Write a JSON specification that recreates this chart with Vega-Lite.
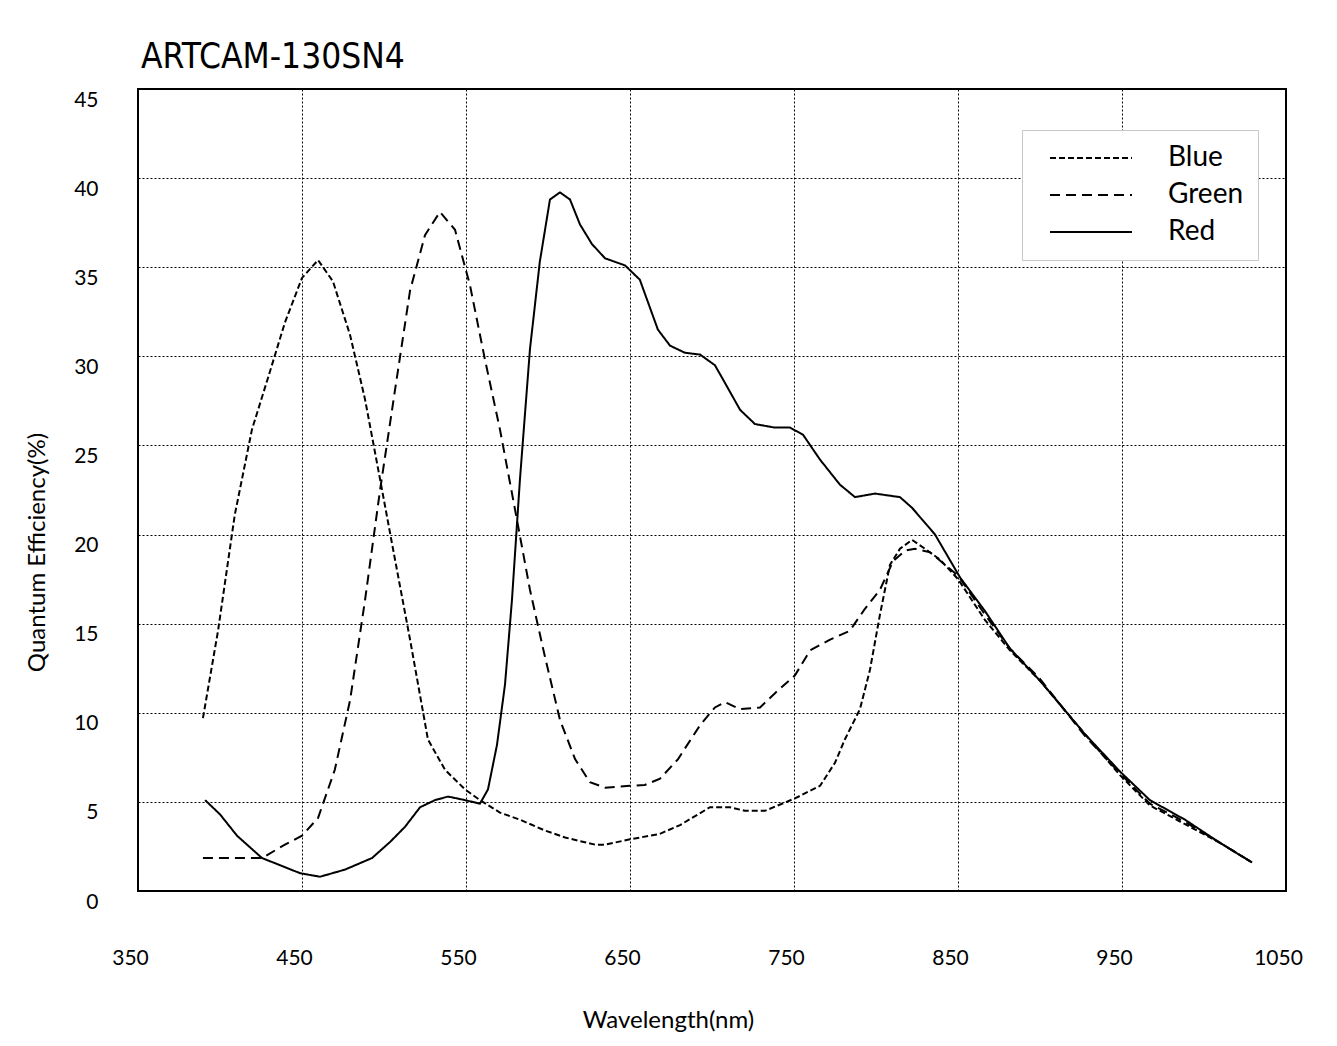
{
  "$schema": "https://vega.github.io/schema/vega-lite/v6.json",
  "width": 1148,
  "height": 802,
  "padding": {"left": 138, "top": 89, "right": 51, "bottom": 155},
  "autosize": {"type": "none"},
  "background": "white",
  "title": {
    "text": "ARTCAM-130SN4",
    "anchor": "start",
    "frame": "group",
    "font": "DejaVu Sans Condensed, DejaVu Sans Mono",
    "fontSize": 35,
    "fontWeight": "normal",
    "color": "black",
    "offset": 14,
    "dx": 3
  },
  "config": {
    "view": {"stroke": "black", "strokeWidth": 2},
    "font": "Lato"
  },
  "data": {
    "values": [
      {"wl": 389.6, "qe": 9.7, "ch": "Blue"},
      {"wl": 398.8, "qe": 14.6, "ch": "Blue"},
      {"wl": 409, "qe": 21.1, "ch": "Blue"},
      {"wl": 419.5, "qe": 25.9, "ch": "Blue"},
      {"wl": 429.3, "qe": 28.8, "ch": "Blue"},
      {"wl": 439.6, "qe": 31.9, "ch": "Blue"},
      {"wl": 450, "qe": 34.4, "ch": "Blue"},
      {"wl": 459.8, "qe": 35.4, "ch": "Blue"},
      {"wl": 468.9, "qe": 34.2, "ch": "Blue"},
      {"wl": 479.3, "qe": 31.2, "ch": "Blue"},
      {"wl": 488.4, "qe": 27.6, "ch": "Blue"},
      {"wl": 497.6, "qe": 23.1, "ch": "Blue"},
      {"wl": 506.7, "qe": 18.6, "ch": "Blue"},
      {"wl": 515.9, "qe": 14.1, "ch": "Blue"},
      {"wl": 526.8, "qe": 8.5, "ch": "Blue"},
      {"wl": 537.2, "qe": 6.8, "ch": "Blue"},
      {"wl": 549.4, "qe": 5.7, "ch": "Blue"},
      {"wl": 558.5, "qe": 5.1, "ch": "Blue"},
      {"wl": 570.7, "qe": 4.4, "ch": "Blue"},
      {"wl": 582.9, "qe": 4.0, "ch": "Blue"},
      {"wl": 598, "qe": 3.4, "ch": "Blue"},
      {"wl": 610.4, "qe": 3.0, "ch": "Blue"},
      {"wl": 628.7, "qe": 2.6, "ch": "Blue"},
      {"wl": 634.8, "qe": 2.6, "ch": "Blue"},
      {"wl": 650, "qe": 2.9, "ch": "Blue"},
      {"wl": 668, "qe": 3.2, "ch": "Blue"},
      {"wl": 680.5, "qe": 3.7, "ch": "Blue"},
      {"wl": 698.8, "qe": 4.7, "ch": "Blue"},
      {"wl": 711, "qe": 4.7, "ch": "Blue"},
      {"wl": 720, "qe": 4.5, "ch": "Blue"},
      {"wl": 732.3, "qe": 4.5, "ch": "Blue"},
      {"wl": 750.6, "qe": 5.2, "ch": "Blue"},
      {"wl": 765.9, "qe": 5.9, "ch": "Blue"},
      {"wl": 775, "qe": 7.2, "ch": "Blue"},
      {"wl": 781, "qe": 8.5, "ch": "Blue"},
      {"wl": 790.2, "qe": 10.2, "ch": "Blue"},
      {"wl": 796.3, "qe": 12.4, "ch": "Blue"},
      {"wl": 802.4, "qe": 15.5, "ch": "Blue"},
      {"wl": 808.5, "qe": 18.3, "ch": "Blue"},
      {"wl": 814.6, "qe": 19.2, "ch": "Blue"},
      {"wl": 822, "qe": 19.7, "ch": "Blue"},
      {"wl": 829.9, "qe": 19.2, "ch": "Blue"},
      {"wl": 839, "qe": 18.6, "ch": "Blue"},
      {"wl": 850, "qe": 17.5, "ch": "Blue"},
      {"wl": 866.5, "qe": 15.2, "ch": "Blue"},
      {"wl": 881.7, "qe": 13.5, "ch": "Blue"},
      {"wl": 900, "qe": 11.8, "ch": "Blue"},
      {"wl": 927.4, "qe": 8.8, "ch": "Blue"},
      {"wl": 948.8, "qe": 6.5, "ch": "Blue"},
      {"wl": 967, "qe": 4.8, "ch": "Blue"},
      {"wl": 985.4, "qe": 3.9, "ch": "Blue"},
      {"wl": 1009.8, "qe": 2.7, "ch": "Blue"},
      {"wl": 1029.3, "qe": 1.6, "ch": "Blue"},

      {"wl": 389.6, "qe": 1.85, "ch": "Green"},
      {"wl": 425.6, "qe": 1.85, "ch": "Green"},
      {"wl": 439.6, "qe": 2.6, "ch": "Green"},
      {"wl": 450, "qe": 3.1, "ch": "Green"},
      {"wl": 459.8, "qe": 4.1, "ch": "Green"},
      {"wl": 470, "qe": 6.8, "ch": "Green"},
      {"wl": 479.3, "qe": 10.7, "ch": "Green"},
      {"wl": 488.4, "qe": 16.3, "ch": "Green"},
      {"wl": 497.6, "qe": 22.5, "ch": "Green"},
      {"wl": 506.7, "qe": 28.1, "ch": "Green"},
      {"wl": 515.9, "qe": 33.7, "ch": "Green"},
      {"wl": 525, "qe": 36.8, "ch": "Green"},
      {"wl": 534.1, "qe": 38.1, "ch": "Green"},
      {"wl": 543.3, "qe": 37.1, "ch": "Green"},
      {"wl": 552.4, "qe": 34.0, "ch": "Green"},
      {"wl": 561.6, "qe": 29.8, "ch": "Green"},
      {"wl": 570.7, "qe": 25.9, "ch": "Green"},
      {"wl": 579.9, "qe": 21.4, "ch": "Green"},
      {"wl": 589, "qe": 16.9, "ch": "Green"},
      {"wl": 598, "qe": 13.2, "ch": "Green"},
      {"wl": 607.3, "qe": 9.6, "ch": "Green"},
      {"wl": 616.5, "qe": 7.4, "ch": "Green"},
      {"wl": 625.6, "qe": 6.1, "ch": "Green"},
      {"wl": 634.8, "qe": 5.8, "ch": "Green"},
      {"wl": 650, "qe": 5.9, "ch": "Green"},
      {"wl": 659, "qe": 5.95, "ch": "Green"},
      {"wl": 668.3, "qe": 6.3, "ch": "Green"},
      {"wl": 679.3, "qe": 7.4, "ch": "Green"},
      {"wl": 692.7, "qe": 9.3, "ch": "Green"},
      {"wl": 701.8, "qe": 10.3, "ch": "Green"},
      {"wl": 707.9, "qe": 10.6, "ch": "Green"},
      {"wl": 717, "qe": 10.2, "ch": "Green"},
      {"wl": 729.3, "qe": 10.3, "ch": "Green"},
      {"wl": 738.4, "qe": 11.1, "ch": "Green"},
      {"wl": 750.6, "qe": 12.1, "ch": "Green"},
      {"wl": 759.8, "qe": 13.5, "ch": "Green"},
      {"wl": 772, "qe": 14.1, "ch": "Green"},
      {"wl": 784, "qe": 14.6, "ch": "Green"},
      {"wl": 793, "qe": 15.8, "ch": "Green"},
      {"wl": 802.4, "qe": 16.9, "ch": "Green"},
      {"wl": 810.4, "qe": 18.5, "ch": "Green"},
      {"wl": 817.7, "qe": 19.1, "ch": "Green"},
      {"wl": 823.8, "qe": 19.2, "ch": "Green"},
      {"wl": 833, "qe": 19.0, "ch": "Green"},
      {"wl": 850, "qe": 17.7, "ch": "Green"},
      {"wl": 866.5, "qe": 15.5, "ch": "Green"},
      {"wl": 881.7, "qe": 13.6, "ch": "Green"},
      {"wl": 900, "qe": 11.9, "ch": "Green"},
      {"wl": 927.4, "qe": 8.7, "ch": "Green"},
      {"wl": 948.8, "qe": 6.6, "ch": "Green"},
      {"wl": 967, "qe": 4.9, "ch": "Green"},
      {"wl": 988, "qe": 3.9, "ch": "Green"},
      {"wl": 1009.8, "qe": 2.7, "ch": "Green"},
      {"wl": 1029.3, "qe": 1.6, "ch": "Green"},

      {"wl": 390.9, "qe": 5.1, "ch": "Red"},
      {"wl": 400, "qe": 4.3, "ch": "Red"},
      {"wl": 410.4, "qe": 3.1, "ch": "Red"},
      {"wl": 425.6, "qe": 1.85, "ch": "Red"},
      {"wl": 448.8, "qe": 1.0, "ch": "Red"},
      {"wl": 461, "qe": 0.8, "ch": "Red"},
      {"wl": 476.2, "qe": 1.2, "ch": "Red"},
      {"wl": 492.7, "qe": 1.85, "ch": "Red"},
      {"wl": 503.7, "qe": 2.75, "ch": "Red"},
      {"wl": 512.8, "qe": 3.6, "ch": "Red"},
      {"wl": 522, "qe": 4.7, "ch": "Red"},
      {"wl": 531.1, "qe": 5.1, "ch": "Red"},
      {"wl": 539, "qe": 5.3, "ch": "Red"},
      {"wl": 549.4, "qe": 5.1, "ch": "Red"},
      {"wl": 558.5, "qe": 4.9, "ch": "Red"},
      {"wl": 563.4, "qe": 5.7, "ch": "Red"},
      {"wl": 568.9, "qe": 8.2, "ch": "Red"},
      {"wl": 573.8, "qe": 11.6, "ch": "Red"},
      {"wl": 578, "qe": 16.3, "ch": "Red"},
      {"wl": 582.9, "qe": 23.1, "ch": "Red"},
      {"wl": 589, "qe": 30.4, "ch": "Red"},
      {"wl": 595, "qe": 35.3, "ch": "Red"},
      {"wl": 601.2, "qe": 38.8, "ch": "Red"},
      {"wl": 607.3, "qe": 39.2, "ch": "Red"},
      {"wl": 613.4, "qe": 38.8, "ch": "Red"},
      {"wl": 619.5, "qe": 37.4, "ch": "Red"},
      {"wl": 626.8, "qe": 36.3, "ch": "Red"},
      {"wl": 634.8, "qe": 35.5, "ch": "Red"},
      {"wl": 647, "qe": 35.1, "ch": "Red"},
      {"wl": 656, "qe": 34.3, "ch": "Red"},
      {"wl": 667, "qe": 31.5, "ch": "Red"},
      {"wl": 674.4, "qe": 30.6, "ch": "Red"},
      {"wl": 683.5, "qe": 30.2, "ch": "Red"},
      {"wl": 692.7, "qe": 30.1, "ch": "Red"},
      {"wl": 701.8, "qe": 29.5, "ch": "Red"},
      {"wl": 709.8, "qe": 28.2, "ch": "Red"},
      {"wl": 717.1, "qe": 27.0, "ch": "Red"},
      {"wl": 726.2, "qe": 26.2, "ch": "Red"},
      {"wl": 738.4, "qe": 26.0, "ch": "Red"},
      {"wl": 747.6, "qe": 26.0, "ch": "Red"},
      {"wl": 755.5, "qe": 25.6, "ch": "Red"},
      {"wl": 765.9, "qe": 24.2, "ch": "Red"},
      {"wl": 778, "qe": 22.8, "ch": "Red"},
      {"wl": 787.2, "qe": 22.1, "ch": "Red"},
      {"wl": 799.4, "qe": 22.3, "ch": "Red"},
      {"wl": 814.6, "qe": 22.1, "ch": "Red"},
      {"wl": 822, "qe": 21.5, "ch": "Red"},
      {"wl": 836, "qe": 20.0, "ch": "Red"},
      {"wl": 851.2, "qe": 17.6, "ch": "Red"},
      {"wl": 866.5, "qe": 15.7, "ch": "Red"},
      {"wl": 881.7, "qe": 13.6, "ch": "Red"},
      {"wl": 900, "qe": 11.8, "ch": "Red"},
      {"wl": 927.4, "qe": 8.8, "ch": "Red"},
      {"wl": 948.8, "qe": 6.7, "ch": "Red"},
      {"wl": 967, "qe": 5.1, "ch": "Red"},
      {"wl": 988.4, "qe": 4.0, "ch": "Red"},
      {"wl": 1009.8, "qe": 2.7, "ch": "Red"},
      {"wl": 1029.3, "qe": 1.6, "ch": "Red"}
    ]
  },
  "mark": {"type": "line", "color": "black", "strokeWidth": 2},
  "encoding": {
    "x": {
      "field": "wl",
      "type": "quantitative",
      "scale": {"domain": [350, 1050], "nice": false, "zero": false},
      "axis": {
        "values": [350, 450, 550, 650, 750, 850, 950, 1050],
        "format": "d",
        "title": "Wavelength(nm)",
        "titleFont": "Lato",
        "titleFontSize": 24,
        "titleFontWeight": "normal",
        "titleColor": "black",
        "titleX": 530,
        "titleY": 129,
        "titleBaseline": "middle",
        "labelFont": "Lato",
        "labelFontSize": 21,
        "labelColor": "black",
        "labelBaseline": "middle",
        "labelPadding": 67,
        "labelOffset": -8,
        "labelFlush": false,
        "labelOverlap": false,
        "ticks": false,
        "domain": false,
        "grid": true,
        "gridColor": "black",
        "gridDash": [2, 2],
        "gridWidth": 1,
        "gridOpacity": 1
      }
    },
    "y": {
      "field": "qe",
      "type": "quantitative",
      "scale": {"domain": [0, 45], "nice": false},
      "axis": {
        "values": [0, 5, 10, 15, 20, 25, 30, 35, 40, 45],
        "title": "Quantum Efficiency(%)",
        "titleFont": "Lato",
        "titleFontSize": 24,
        "titleFontWeight": "normal",
        "titleColor": "black",
        "titleX": -101,
        "titleY": 463,
        "titleAngle": -90,
        "titleBaseline": "middle",
        "labelFont": "Lato",
        "labelFontSize": 21,
        "labelColor": "black",
        "labelBaseline": "middle",
        "labelPadding": 40,
        "labelOffset": 11,
        "labelFlush": false,
        "labelOverlap": false,
        "ticks": false,
        "domain": false,
        "grid": true,
        "gridColor": "black",
        "gridDash": [2, 2],
        "gridWidth": 1,
        "gridOpacity": 1
      }
    },
    "strokeDash": {
      "field": "ch",
      "type": "nominal",
      "scale": {"domain": ["Blue", "Green", "Red"], "range": [[6, 3], [10, 6], [1, 0]]},
      "legend": {
        "title": null,
        "orient": "none",
        "legendX": 884,
        "legendY": 41,
        "fillColor": "white",
        "strokeColor": "#c8c8c8",
        "padding": 14,
        "symbolType": "M0,0H8",
        "symbolSize": 420,
        "symbolStrokeWidth": 2,
        "symbolStrokeColor": "black",
        "symbolFillColor": "transparent",
        "labelFont": "Lato",
        "labelFontSize": 28,
        "labelColor": "black",
        "labelOffset": 104,
        "rowPadding": 9
      }
    }
  }
}
